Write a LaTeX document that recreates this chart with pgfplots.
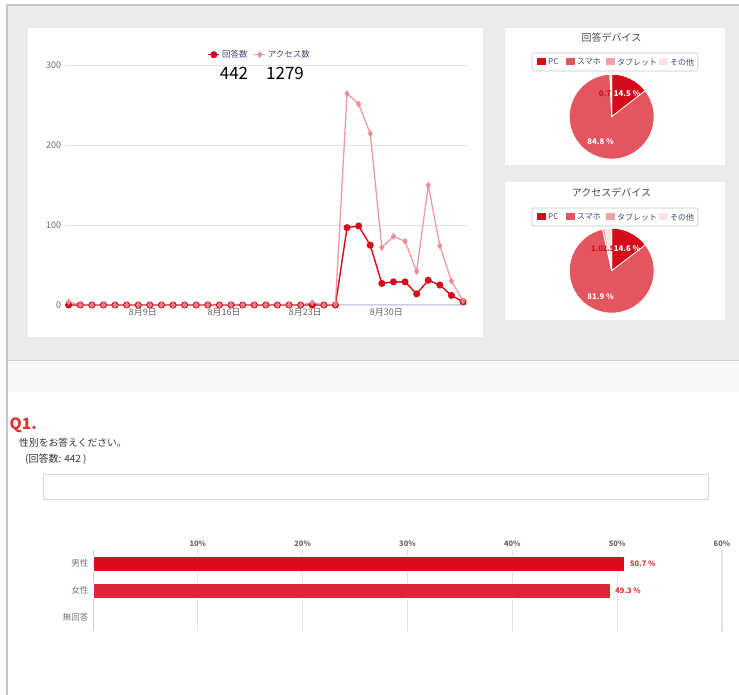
\documentclass[border=0pt]{standalone}
\usepackage{pgfplots}
\pgfplotsset{compat=1.18}
\usepackage{pgfplotstable}
\usepackage{fontspec}
\setmainfont{Noto Sans CJK JP}
\definecolor{bggray}{HTML}{EBEBEB}
\definecolor{bordergray}{HTML}{C6C6C6}
\definecolor{stripc}{HTML}{F7F7F7}
\definecolor{pcC}{HTML}{D50B1B}
\definecolor{phC}{HTML}{E4565F}
\definecolor{tbC}{HTML}{F2A1A6}
\definecolor{otC}{HTML}{FCE4E5}
\definecolor{ansc}{HTML}{D50B1B}
\definecolor{accc}{HTML}{EE8A92}
\definecolor{gridc}{HTML}{E2E2E2}
\definecolor{basec}{HTML}{C5D0E0}
\definecolor{tickc}{HTML}{666666}
\definecolor{legtext}{HTML}{3C4A6B}
\definecolor{txtc}{HTML}{333333}
\definecolor{qred}{HTML}{E8302F}
\definecolor{barc1}{HTML}{D80C1C}
\definecolor{barc2}{HTML}{DF2634}
\definecolor{labred}{HTML}{E8302F}
\definecolor{boxc}{HTML}{D8D8D8}
\newcommand\fs[1]{\fontsize{#1}{#1}\selectfont}
% start (percent), value (percent), colour
\newcommand\pieslice[3]{%
  \fill[#3, draw=white, line width=0.7pt] (axis cs:0,0) -- ++({90-3.6*#1}:42.4pt)
    arc[start angle={90-3.6*#1}, end angle={90-3.6*(#1+#2)}, radius=42.4pt] -- cycle;}

\pgfplotstableread{
d ans acc
0 0 4
1 0 0
2 0 0
3 0 0
4 0 0
5 0 0
6 0 0
7 0 0
8 0 0
9 0 0
10 0 0
11 0 0
12 0 0
13 0 0
14 0 0
15 0 0
16 0 0
17 0 0
18 0 0
19 0 0
20 0 0
21 0 3
22 0 0
23 0 1
24 97 265
25 99 252
26 75 215
27 27 72
28 29 86
29 29 80
30 14 42
31 31 150
32 25 74
33 12 30
34 4 5
}\linedata

\begin{document}
\begin{tikzpicture}
\path[use as bounding box] (0,0) rectangle (739pt,695pt);
\fill[white] (0,0) rectangle (739pt,695pt);
\fill[bggray] (7pt,335pt) rectangle (739pt,690pt);
\fill[stripc] (7pt,303pt) rectangle (739pt,333pt);
\draw[bordergray!80, line width=1pt] (7pt,334pt) -- (739pt,334pt);
\draw[bordergray, line width=2pt] (7pt,0pt) -- (7pt,690pt) -- (739pt,690pt);
% panels
\fill[white] (28pt,358pt) rectangle (483pt,667pt);
\fill[white] (505pt,530pt) rectangle (725pt,667pt);
\fill[white] (505pt,375pt) rectangle (725pt,513pt);

% ---------------- line chart
\begin{axis}[
  at={(64.7pt,390pt)}, anchor=south west, scale only axis,
  width=402.3pt, height=239.3pt,
  xmin=-0.34, xmax=34.34, ymin=0, ymax=300,
  axis line style={draw=none},
  ytick={0,100,200,300},
  xtick={6,13,20,27}, xticklabels={8月9日,8月16日,8月23日,8月30日},
  ymajorgrids, grid style={gridc, line width=0.9pt},
  major tick length=0pt,
  tick label style={font=\fs{9}, text=tickc},
  xticklabel style={xshift=4.6pt, yshift=0.5pt},
  /pgf/number format/assume math mode=true,
  clip=false,
  legend style={at={(0.485,1.046)}, anchor=center, draw=none, fill=none,
    font=\fs{8.5}, text=legtext, legend columns=2,
    /tikz/every even column/.append style={column sep=4pt},
    legend cell align=left},
  legend image code/.code={\draw[mark repeat=2,mark phase=2,#1] plot coordinates {(0pt,0pt)(5.5pt,0pt)(11pt,0pt)};},
]
\draw[basec, line width=1pt] (axis cs:-0.34,0) -- (axis cs:34.34,0);
\addplot[color=ansc, line width=1.4pt, mark=*, mark size=2.8pt] table[x=d,y=ans] {\linedata};
\addlegendentry{回答数}
\addplot[color=accc, line width=1.3pt, mark=diamond*, mark size=2.5pt, opacity=0.85] table[x=d,y=acc] {\linedata};
\addlegendentry{アクセス数}
\end{axis}
\node[font=\fs{17}, text=black] at (234pt,622pt) {442};
\node[font=\fs{17}, text=black] at (285pt,622pt) {1279};

% ---------------- pie 1
\node[font=\fs{10}, text=txtc!90] at (611.5pt,657pt) {回答デバイス};
\draw[bordergray, rounded corners=2pt, line width=0.6pt] (532pt,624pt) rectangle (698pt,642pt);
\begin{axis}[hide axis, scale only axis, width=84.8pt, height=84.8pt,
  xmin=-1,xmax=1,ymin=-1,ymax=1, at={(611.7pt,578.3pt)}, anchor=center, clip=false]
\addplot[draw=none] coordinates {(0,0)};
\pieslice{0}{14.5}{pcC}
\pieslice{14.5}{84.8}{phC}
\pieslice{99.3}{0.7}{otC}
\end{axis}
\node[font=\bfseries\fs{7.8}, text=pcC] at (605pt,601.5pt) {0.7};
\node[font=\bfseries\fs{7.8}, text=white] at (627pt,601pt) {14.5 \%};
\node[font=\bfseries\fs{7.8}, text=white] at (600.7pt,553.3pt) {84.8 \%};

% ---------------- pie 2
\node[font=\fs{10}, text=txtc!90] at (611.5pt,502pt) {アクセスデバイス};
\draw[bordergray, rounded corners=2pt, line width=0.6pt] (532pt,469pt) rectangle (698pt,487pt);
\begin{axis}[hide axis, scale only axis, width=84.8pt, height=84.8pt,
  xmin=-1,xmax=1,ymin=-1,ymax=1, at={(611.7pt,424.3pt)}, anchor=center, clip=false]
\addplot[draw=none] coordinates {(0,0)};
\pieslice{0}{14.6}{pcC}
\pieslice{14.6}{81.9}{phC}
\pieslice{96.5}{1.0}{tbC}
\pieslice{97.5}{2.5}{otC}
\end{axis}
\node[font=\bfseries\fs{7.5}, text=pcC, inner sep=0pt] at (597pt,446pt) {1.0};
\node[font=\bfseries\fs{7.5}, text=pcC, inner sep=0pt] at (608.5pt,446pt) {2.5};
\node[font=\bfseries\fs{7.8}, text=white] at (627pt,446pt) {14.6 \%};
\node[font=\bfseries\fs{7.8}, text=white] at (600.7pt,398.3pt) {81.9 \%};

% legends of pies
\foreach \yy in {633pt,478pt}{
  \fill[pcC] (537pt,\yy-3.5pt) rectangle (546pt,\yy+3.5pt);
  \node[anchor=west, font=\fs{8}, text=legtext, inner sep=0pt] at (548pt,\yy) {PC};
  \fill[phC] (566pt,\yy-3.5pt) rectangle (575pt,\yy+3.5pt);
  \node[anchor=west, font=\fs{8}, text=legtext, inner sep=0pt] at (577pt,\yy) {スマホ};
  \fill[tbC] (606pt,\yy-3.5pt) rectangle (615pt,\yy+3.5pt);
  \node[anchor=west, font=\fs{8}, text=legtext, inner sep=0pt] at (617pt,\yy) {タブレット};
  \fill[otC] (659pt,\yy-3.5pt) rectangle (668pt,\yy+3.5pt);
  \node[anchor=west, font=\fs{8}, text=legtext, inner sep=0pt] at (670pt,\yy) {その他};
}

% ---------------- Q1 section
\node[anchor=west, font=\bfseries\fs{15.5}, text=qred, inner sep=0pt] at (9.5pt,270pt) {Q1.};
\node[anchor=west, font=\fs{9.8}, text=txtc, inner sep=0pt] at (19pt,252pt) {性別をお答えください。};
\node[anchor=west, font=\fs{10}, text=txtc, inner sep=0pt] at (25pt,236pt) {(回答数: 442 )};
\draw[boxc, line width=1pt] (43pt,195pt) rectangle (708pt,220pt);

% ---------------- bar chart
\begin{axis}[
  at={(93pt,64pt)}, anchor=south west, scale only axis,
  width=629pt, height=81pt,
  xbar, bar width=15pt,
  xmin=0, xmax=60, ymin=-0.5, ymax=2.5, y dir=reverse,
  ytick={0,1,2}, yticklabels={男性,女性,無回答},
  xtick={10,20,30,40,50,60},
  xticklabel={\pgfmathprintnumber{\tick}\%},
  xticklabel pos=upper,
  xmajorgrids, grid style={gridc, line width=1.2pt},
  axis line style={draw=none},
  major tick length=0pt,
  /pgf/number format/assume math mode=true,
  xticklabel style={font=\bfseries\fs{7.5}, text=tickc},
  yticklabel style={font=\fs{8.5}, text=tickc!90, xshift=-1pt},
  clip=false,
  nodes near coords={\pgfmathprintnumber[fixed,precision=1]{\pgfplotspointmeta} \%},
  point meta=x,
  nodes near coords style={font=\bfseries\fs{7.5}, text=labred, anchor=west, xshift=2pt},
]
\draw[basec, line width=1pt] (axis cs:0,-0.5) -- (axis cs:0,2.5);
\addplot[fill=barc1, draw=white, line width=0.5pt, bar shift=0pt] coordinates {(50.7,0)};
\addplot[fill=barc2, draw=white, line width=0.5pt, bar shift=0pt] coordinates {(49.3,1)};
\end{axis}
\end{tikzpicture}
\end{document}
